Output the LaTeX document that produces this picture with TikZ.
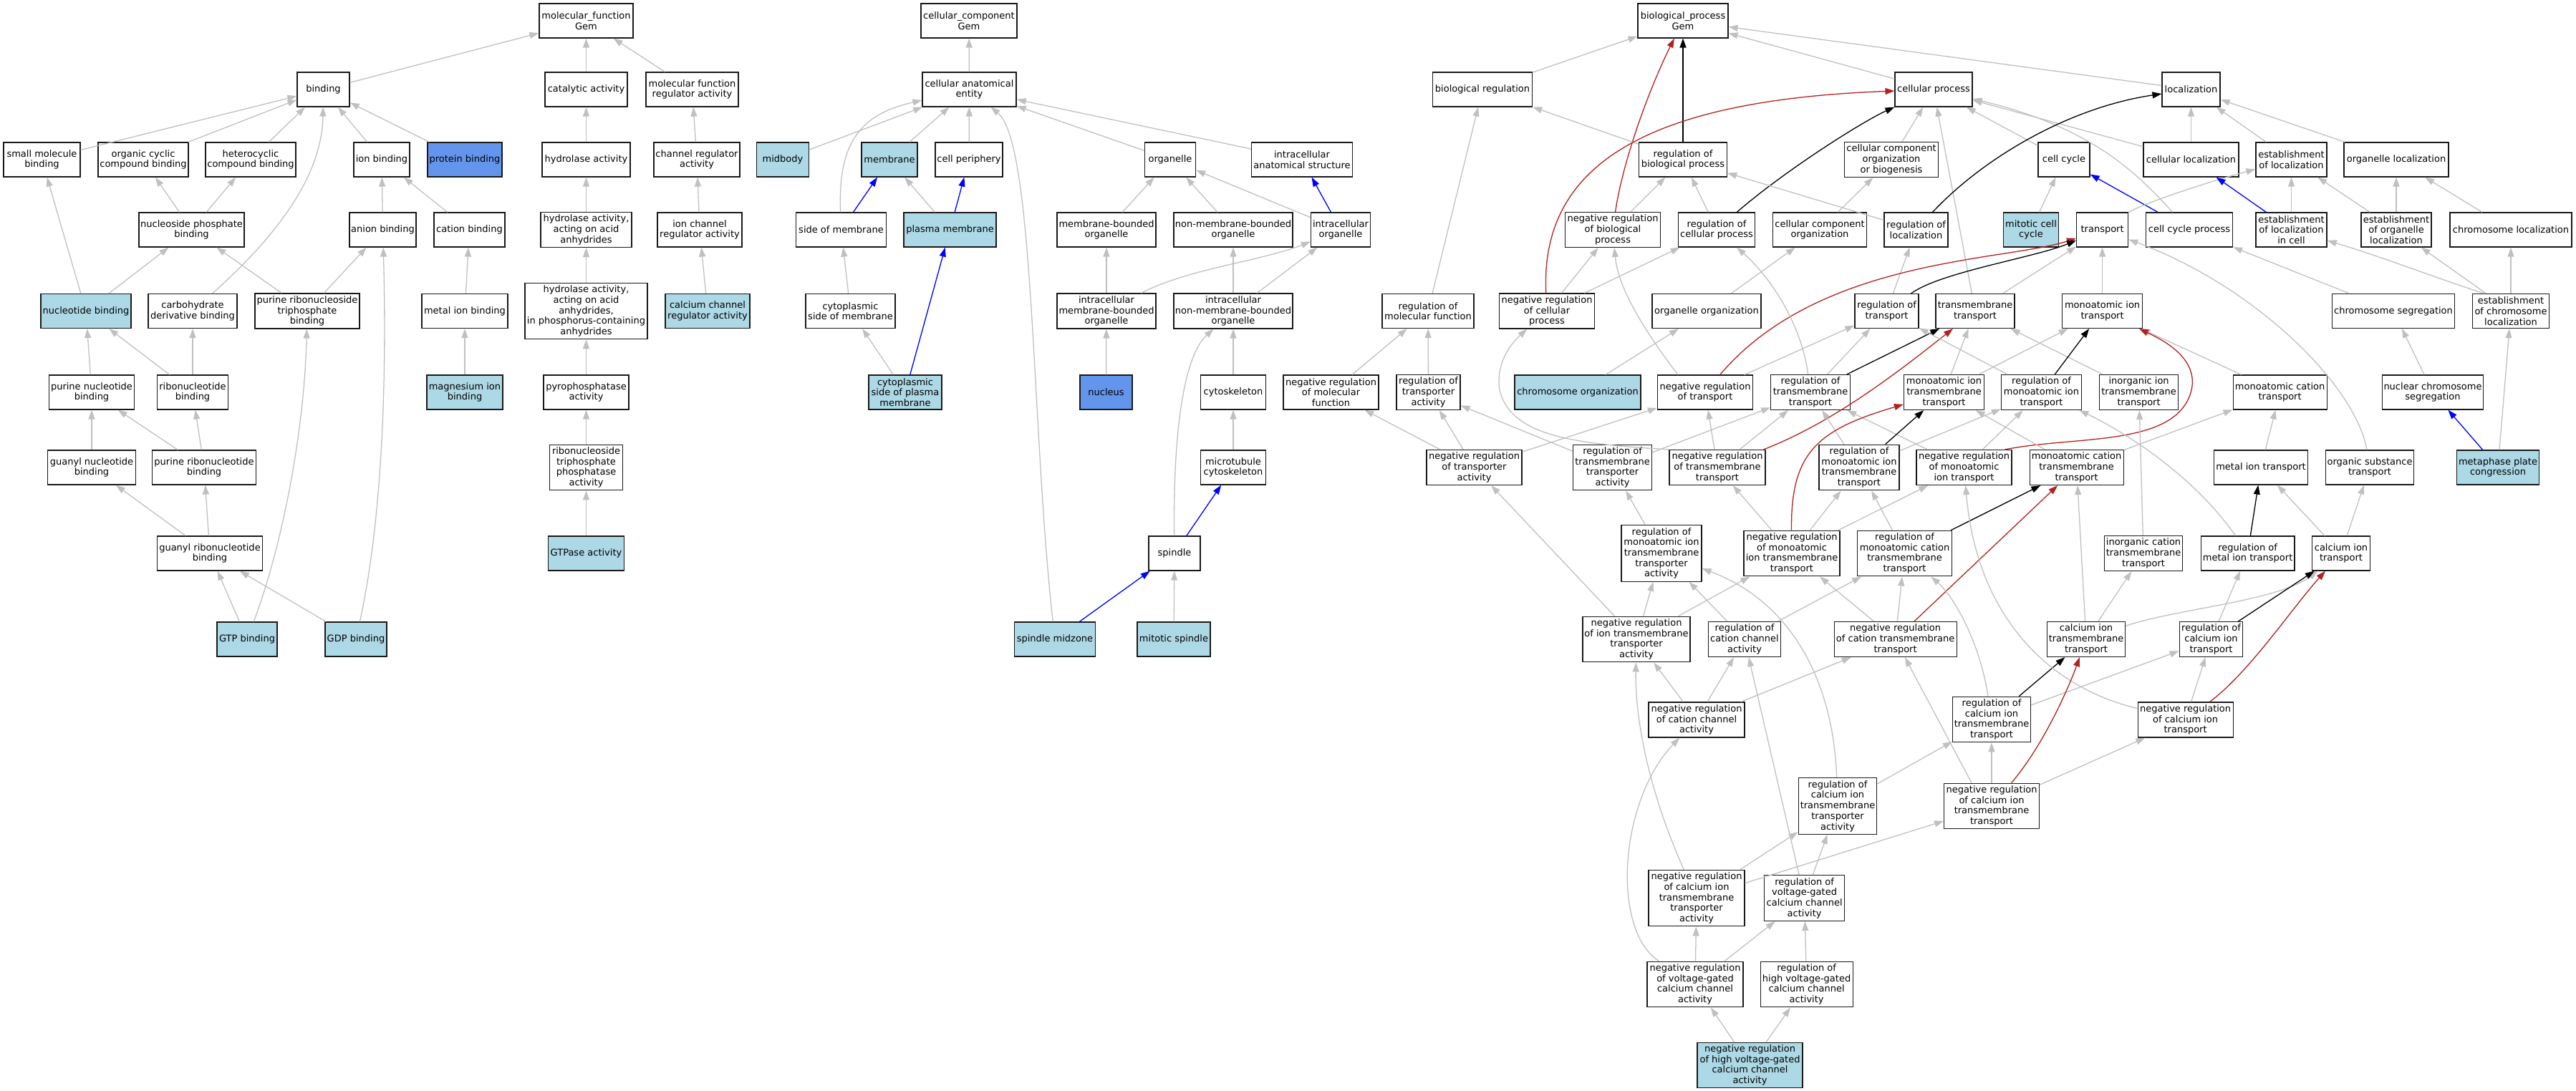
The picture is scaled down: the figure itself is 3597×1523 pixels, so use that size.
\documentclass[tikz,border=0pt]{standalone}
\usepackage{fontspec}
\setmainfont{DejaVu Sans}
\usetikzlibrary{arrows.meta}
\definecolor{hitblue}{HTML}{ADD8E6}
\definecolor{keyblue}{HTML}{6495ED}
\definecolor{isagray}{HTML}{C0C0C0}
\definecolor{negred}{HTML}{B22222}
\tikzstyle{term} = [rectangle, draw=black!90, line width=1.2pt, fill=white, align=center, minimum height=48pt, inner xsep=2pt, inner ysep=3.5pt, font=\fontsize{13}{14.7}\selectfont]
\tikzstyle{hitterm} = [term, fill=hitblue]
\tikzstyle{keyterm} = [term, fill=keyblue]
\tikzstyle{isa} = [line width=1.3pt, draw=isagray, -{Triangle[length=13pt,width=9pt]}]
\tikzstyle{reg} = [isa, draw=black]
\tikzstyle{negreg} = [isa, draw=negred]
\tikzstyle{partof} = [isa, draw=blue]

\begin{document}
\begin{tikzpicture}[x=1pt, y=-1pt]
        \useasboundingbox (0,0) rectangle (3597,1523);

        \node (mf) [term, minimum width=131] at (818.5,29) {molecular\_function\\Gem};
        \node (binding) [term, minimum width=73] at (451.5,125) {binding};
        \node (catalytic) [term, minimum width=115] at (818.5,125) {catalytic activity};
        \node (mfreg) [term, minimum width=129] at (966.5,125) {molecular function\\regulator activity};
        \node (smb) [term, minimum width=107] at (58.5,223) {small molecule\\binding};
        \node (occb) [term, minimum width=126] at (200,223) {organic cyclic\\compound binding};
        \node (hccb) [term, minimum width=126] at (350,223) {heterocyclic\\compound binding};
        \node (ionb) [term, minimum width=78] at (533,223) {ion binding};
        \node (protb) [keyterm, minimum width=104] at (649,223) {protein binding};
        \node (hydro) [term, minimum width=123] at (818.5,223) {hydrolase activity};
        \node (chanreg) [term, minimum width=120] at (973,223) {channel regulator\\activity};
        \node (npb) [term, minimum width=147] at (267.5,321) {nucleoside phosphate\\binding};
        \node (anionb) [term, minimum width=93] at (534.5,321) {anion binding};
        \node (cationb) [term, minimum width=99] at (655.5,321) {cation binding};
        \node (haaa) [term, minimum width=127] at (818.5,321) {hydrolase activity,\\acting on acid\\anhydrides};
        \node (ionchanreg) [term, minimum width=118] at (977,321) {ion channel\\regulator activity};
        \node (ntb) [hitterm, minimum width=126] at (120,434.5) {nucleotide binding};
        \node (cdb) [term, minimum width=124] at (269,434.5) {carbohydrate\\derivative binding};
        \node (prtb) [term, minimum width=146] at (429,434.5) {purine ribonucleoside\\triphosphate\\binding};
        \node (metalb) [term, minimum width=120] at (649,434.5) {metal ion binding};
        \node (haaap) [term, minimum width=171] at (818.5,434.5) {hydrolase activity,\\acting on acid\\anhydrides,\\in phosphorus-containing\\anhydrides};
        \node (cachanreg) [hitterm, minimum width=118] at (988,434.5) {calcium channel\\regulator activity};
        \node (pnb) [term, minimum width=119] at (128,548) {purine nucleotide\\binding};
        \node (rnb) [term, minimum width=99] at (269,548) {ribonucleotide\\binding};
        \node (mgb) [hitterm, minimum width=106] at (649,548) {magnesium ion\\binding};
        \node (ppase) [term, minimum width=119] at (818.5,548) {pyrophosphatase\\activity};
        \node (gnb) [term, minimum width=123] at (128,653) {guanyl nucleotide\\binding};
        \node (prnb) [term, minimum width=145] at (285,653) {purine ribonucleotide\\binding};
        \node (rtpase) [term, minimum width=102] at (818.5,653) {ribonucleoside\\triphosphate\\phosphatase\\activity};
        \node (grnb) [term, minimum width=147] at (293,773) {guanyl ribonucleotide\\binding};
        \node (gtpase) [hitterm, minimum width=106] at (818.5,773) {GTPase activity};
        \node (gtpb) [hitterm, minimum width=84] at (345,893) {GTP binding};
        \node (gdpb) [hitterm, minimum width=86] at (497,893) {GDP binding};

        \node (cc) [term, minimum width=134] at (1353,29) {cellular\_component\\Gem};
        \node (cae) [term, minimum width=131] at (1353.5,125) {cellular anatomical\\entity};
        \node (midbody) [hitterm, minimum width=73] at (1093,223) {midbody};
        \node (membrane) [hitterm, minimum width=78] at (1242,223) {membrane};
        \node (cellper) [term, minimum width=94] at (1353,223) {cell periphery};
        \node (organelle) [term, minimum width=71] at (1634,223) {organelle};
        \node (ias) [term, minimum width=141] at (1818,223) {intracellular\\anatomical structure};
        \node (som) [term, minimum width=126] at (1174.5,321) {side of membrane};
        \node (pm) [hitterm, minimum width=129] at (1326.5,321) {plasma membrane};
        \node (mbo) [term, minimum width=138] at (1545,321) {membrane-bounded\\organelle};
        \node (nmbo) [term, minimum width=166] at (1722,321) {non-membrane-bounded\\organelle};
        \node (io) [term, minimum width=83] at (1872,321) {intracellular\\organelle};
        \node (csom) [term, minimum width=125] at (1187.5,434.5) {cytoplasmic\\side of membrane};
        \node (imbo) [term, minimum width=138] at (1545,434.5) {intracellular\\membrane-bounded\\organelle};
        \node (inmbo) [term, minimum width=166] at (1722,434.5) {intracellular\\non-membrane-bounded\\organelle};
        \node (cspm) [hitterm, minimum width=102] at (1264,548) {cytoplasmic\\side of plasma\\membrane};
        \node (nucleus) [keyterm, minimum width=73] at (1544.5,548) {nucleus};
        \node (cytosk) [term, minimum width=91] at (1722,548) {cytoskeleton};
        \node (mtcs) [term, minimum width=91] at (1722,653) {microtubule\\cytoskeleton};
        \node (spindle) [term, minimum width=72] at (1640,773) {spindle};
        \node (spmid) [hitterm, minimum width=113] at (1473,893) {spindle midzone};
        \node (mitsp) [hitterm, minimum width=102] at (1639,893) {mitotic spindle};

        \node (bp) [term, minimum width=126] at (2350,29) {biological\_process\\Gem};
        \node (breg) [term, minimum width=139] at (2070,125) {biological regulation};
        \node (cp) [term, minimum width=108] at (2700,125) {cellular process};
        \node (loc) [term, minimum width=81] at (3059.5,125) {localization};
        \node (rbp) [term, minimum width=123] at (2350,223) {regulation of\\biological process};
        \node (ccob) [term, minimum width=131] at (2641,223) {cellular component\\organization\\or biogenesis};
        \node (ccyc) [term, minimum width=72] at (2882,223) {cell cycle};
        \node (cloc) [term, minimum width=133] at (3059.5,223) {cellular localization};
        \node (eol) [term, minimum width=99] at (3199.5,223) {establishment\\of localization};
        \node (oloc) [term, minimum width=146] at (3346,223) {organelle localization};
        \node (nrbp) [term, minimum width=133] at (2252,321) {negative regulation\\of biological\\process};
        \node (rcp) [term, minimum width=107.5] at (2397,321) {regulation of\\cellular process};
        \node (cco) [term, minimum width=131] at (2541,321) {cellular component\\organization};
        \node (rloc) [term, minimum width=89] at (2675.5,321) {regulation of\\localization};
        \node (mcc) [hitterm, minimum width=77] at (2836,321) {mitotic cell\\cycle};
        \node (transport) [term, minimum width=72] at (2935.6,321) {transport};
        \node (ccp) [term, minimum width=121] at (3057,321) {cell cycle process};
        \node (eolic) [term, minimum width=99] at (3199.5,321) {establishment\\of localization\\in cell};
        \node (eool) [term, minimum width=98] at (3346,321) {establishment\\of organelle\\localization};
        \node (chrloc) [term, minimum width=170] at (3506,321) {chromosome localization};
        \node (rmf) [term, minimum width=128] at (1994,434.5) {regulation of\\molecular function};
        \node (nrcp) [term, minimum width=133] at (2160,434.5) {negative regulation\\of cellular\\process};
        \node (oorg) [term, minimum width=152] at (2383,434.5) {organelle organization};
        \node (rt) [term, minimum width=89] at (2634.5,434.5) {regulation of\\transport};
        \node (tt) [term, minimum width=110] at (2758,434.5) {transmembrane\\transport};
        \node (mit) [term, minimum width=112] at (2935.6,434.5) {monoatomic ion\\transport};
        \node (chrseg) [term, minimum width=171] at (3342,434.5) {chromosome segregation};
        \node (ecl) [term, minimum width=107] at (3506,434.5) {establishment\\of chromosome\\localization};
        \node (nrmf) [term, minimum width=133] at (1858.5,548) {negative regulation\\of molecular\\function};
        \node (rta) [term, minimum width=89] at (1994.5,548) {regulation of\\transporter\\activity};
        \node (chrorg) [hitterm, minimum width=176] at (2203,548) {chromosome organization};
        \node (nrt) [term, minimum width=133] at (2381,548) {negative regulation\\of transport};
        \node (rtt) [term, minimum width=110.5] at (2528,548) {regulation of\\transmembrane\\transport};
        \node (mitt) [term, minimum width=112] at (2714.5,548) {monoatomic ion\\transmembrane\\transport};
        \node (rmit) [term, minimum width=112] at (2850.5,548) {regulation of\\monoatomic ion\\transport};
        \node (iitt) [term, minimum width=110] at (2986.6,548) {inorganic ion\\transmembrane\\transport};
        \node (mct) [term, minimum width=131] at (3183.6,548) {monoatomic cation\\transport};
        \node (ncs) [term, minimum width=141.5] at (3397,548) {nuclear chromosome\\segregation};
        \node (nrta) [term, minimum width=133] at (2058.5,653) {negative regulation\\of transporter\\activity};
        \node (rtta) [term, minimum width=110] at (2251.6,653) {regulation of\\transmembrane\\transporter\\activity};
        \node (nrtt) [term, minimum width=134] at (2398,653) {negative regulation\\of transmembrane\\transport};
        \node (rmitt) [term, minimum width=112] at (2596,653) {regulation of\\monoatomic ion\\transmembrane\\transport};
        \node (nrmit) [term, minimum width=133] at (2742.5,653) {negative regulation\\of monoatomic\\ion transport};
        \node (mctt) [term, minimum width=131] at (2899.6,653) {monoatomic cation\\transmembrane\\transport};
        \node (metal) [term, minimum width=130.6] at (3157,653) {metal ion transport};
        \node (ost) [term, minimum width=122.6] at (3309,653) {organic substance\\transport};
        \node (mpc) [hitterm, minimum width=115] at (3488,653) {metaphase plate\\congression};
        \node (rmitta) [term, minimum width=112] at (2320,773) {regulation of\\monoatomic ion\\transmembrane\\transporter\\activity};
        \node (nrmitt) [term, minimum width=134] at (2502,773) {negative regulation\\of monoatomic\\ion transmembrane\\transport};
        \node (rmctt) [term, minimum width=132] at (2659.5,773) {regulation of\\monoatomic cation\\transmembrane\\transport};
        \node (icatt) [term, minimum width=109] at (2993,773) {inorganic cation\\transmembrane\\transport};
        \node (rmetal) [term, minimum width=130.6] at (3138.6,773) {regulation of\\metal ion transport};
        \node (cat) [term, minimum width=80.5] at (3269,773) {calcium ion\\transport};
        \node (nritta) [term, minimum width=150] at (2285,893) {negative regulation\\of ion transmembrane\\transporter\\activity};
        \node (rcca) [term, minimum width=101] at (2436,893) {regulation of\\cation channel\\activity};
        \node (nrctt) [term, minimum width=171] at (2646.6,893) {negative regulation\\of cation transmembrane\\transport};
        \node (catt) [term, minimum width=109] at (2913,893) {calcium ion\\transmembrane\\transport};
        \node (rcat) [term, minimum width=88.5] at (3087.5,893) {regulation of\\calcium ion\\transport};
        \node (nrcca) [term, minimum width=134] at (2369,1005.5) {negative regulation\\of cation channel\\activity};
        \node (rcitt) [term, minimum width=109] at (2781,1005) {regulation of\\calcium ion\\transmembrane\\transport};
        \node (nrcat) [term, minimum width=133] at (3051.6,1005.5) {negative regulation\\of calcium ion\\transport};
        \node (rcitta) [term, minimum width=109.6] at (2566,1126) {regulation of\\calcium ion\\transmembrane\\transporter\\activity};
        \node (nrcitt) [term, minimum width=132.6] at (2781,1126) {negative regulation\\of calcium ion\\transmembrane\\transport};
        \node (nrcitta) [term, minimum width=134] at (2369,1254.5) {negative regulation\\of calcium ion\\transmembrane\\transporter\\activity};
        \node (rvgcca) [term, minimum width=112.5] at (2519.6,1254.5) {regulation of\\voltage-gated\\calcium channel\\activity};
        \node (nrvgcca) [term, minimum width=134] at (2367,1375) {negative regulation\\of voltage-gated\\calcium channel\\activity};
        \node (rhvgcca) [term, minimum width=129] at (2522.6,1375) {regulation of\\high voltage-gated\\calcium channel\\activity};
        \node (nrhvgcca) [hitterm, minimum width=147] at (2443.5,1488) {negative regulation\\of high voltage-gated\\calcium channel\\activity};

        \draw [isa] (binding) -- (mf);
        \draw [isa] (catalytic) -- (mf);
        \draw [isa] (mfreg) -- (mf);
        \draw [isa] (smb) -- (binding);
        \draw [isa] (occb) -- (binding);
        \draw [isa] (hccb) -- (binding);
        \draw [isa] (ionb) -- (binding);
        \draw [isa] (protb) -- (binding);
        \draw [isa] (cdb) .. controls (420,300) and (450,220) .. (binding);
        \draw [isa] (npb) -- (occb);
        \draw [isa] (npb) -- (hccb);
        \draw [isa] (anionb) -- (ionb);
        \draw [isa] (cationb) -- (ionb);
        \draw [isa] (ntb) -- (smb);
        \draw [isa] (ntb) -- (npb);
        \draw [isa] (prtb) -- (npb);
        \draw [isa] (prtb) -- (anionb);
        \draw [isa] (metalb) -- (cationb);
        \draw [isa] (pnb) -- (ntb);
        \draw [isa] (rnb) -- (ntb);
        \draw [isa] (rnb) -- (cdb);
        \draw [isa] (prnb) -- (pnb);
        \draw [isa] (prnb) -- (rnb);
        \draw [isa] (gnb) -- (pnb);
        \draw [isa] (grnb) -- (gnb);
        \draw [isa] (grnb) -- (prnb);
        \draw [isa] (gtpb) -- (grnb);
        \draw [isa] (gdpb) -- (grnb);
        \draw [isa] (gtpb) .. controls (395,760) and (425,600) .. (prtb);
        \draw [isa] (gdpb) .. controls (535,720) and (540,520) .. (anionb);
        \draw [isa] (mgb) -- (metalb);
        \draw [isa] (hydro) -- (catalytic);
        \draw [isa] (haaa) -- (hydro);
        \draw [isa] (haaap) -- (haaa);
        \draw [isa] (ppase) -- (haaap);
        \draw [isa] (rtpase) -- (ppase);
        \draw [isa] (gtpase) -- (rtpase);
        \draw [isa] (chanreg) -- (mfreg);
        \draw [isa] (ionchanreg) -- (chanreg);
        \draw [isa] (cachanreg) -- (ionchanreg);

        \draw [isa] (cae) -- (cc);
        \draw [isa] (midbody) -- (cae);
        \draw [isa] (membrane) -- (cae);
        \draw [isa] (cellper) -- (cae);
        \draw [isa] (organelle) -- (cae);
        \draw [isa] (ias) -- (cae);
        \draw [isa] (som) .. controls (1170,200) and (1200,160) .. (cae);
        \draw [partof] (som) -- (membrane);
        \draw [isa] (pm) -- (membrane);
        \draw [partof] (pm) -- (cellper);
        \draw [isa] (csom) -- (som);
        \draw [isa] (cspm) -- (csom);
        \draw [partof] (cspm) -- (pm);
        \draw [isa] (spmid) .. controls (1440,600) and (1445,200) .. (cae);
        \draw [isa] (mbo) -- (organelle);
        \draw [isa] (nmbo) -- (organelle);
        \draw [isa] (io) -- (organelle);
        \draw [partof] (io) -- (ias);
        \draw [isa] (imbo) -- (mbo);
        \draw [isa] (imbo) .. controls (1660,375) and (1760,365) .. (io);
        \draw [isa] (inmbo) -- (nmbo);
        \draw [isa] (inmbo) -- (io);
        \draw [isa] (nucleus) -- (imbo);
        \draw [isa] (cytosk) -- (inmbo);
        \draw [isa] (mtcs) -- (cytosk);
        \draw [partof] (spindle) -- (mtcs);
        \draw [isa] (spindle) .. controls (1638,620) and (1650,500) .. (inmbo);
        \draw [partof] (spmid) -- (spindle);
        \draw [isa] (mitsp) -- (spindle);

        \draw [isa] (breg) -- (bp);
        \draw [reg] (rbp) -- (bp);
        \draw [negreg] (nrbp) .. controls (2265,230) and (2300,130) .. (bp);
        \draw [isa] (cp) -- (bp);
        \draw [isa] (loc) -- (bp);
        \draw [isa] (rbp) -- (breg);
        \draw [isa] (rmf) -- (breg);
        \draw [negreg] (nrcp) .. controls (2150,230) and (2300,140) .. (cp);
        \draw [reg] (rcp) .. controls (2490,240) and (2600,170) .. (cp);
        \draw [isa] (ccob) -- (cp);
        \draw [isa] (tt) -- (cp);
        \draw [isa] (ccyc) -- (cp);
        \draw [isa] (cloc) -- (cp);
        \draw [isa] (ccp) .. controls (2990,250) and (2930,180) .. (cp);
        \draw [isa] (cloc) -- (loc);
        \draw [isa] (eol) -- (loc);
        \draw [isa] (oloc) -- (loc);
        \draw [reg] (rloc) .. controls (2770,220) and (2890,150) .. (loc);
        \draw [isa] (nrbp) -- (rbp);
        \draw [isa] (rcp) -- (rbp);
        \draw [isa] (rloc) -- (rbp);
        \draw [isa] (cco) -- (ccob);
        \draw [isa] (nrcp) -- (nrbp);
        \draw [isa] (nrcp) -- (rcp);
        \draw [isa] (oorg) -- (cco);
        \draw [isa] (rt) -- (rloc);
        \draw [isa] (mcc) -- (ccyc);
        \draw [partof] (ccp) -- (ccyc);
        \draw [isa] (transport) .. controls (2990,285) and (3080,255) .. (eol);
        \draw [isa] (eolic) -- (eol);
        \draw [partof] (eolic) -- (cloc);
        \draw [isa] (eool) -- (eol);
        \draw [isa] (eool) -- (oloc);
        \draw [isa] (chrloc) -- (oloc);
        \draw [isa] (chrseg) -- (ccp);
        \draw [isa] ([xshift=-37]ecl.north) .. controls (3420,395) and (3330,360) .. (eolic);
        \draw [isa] (ecl) -- (eool);
        \draw [isa] (ecl) -- (chrloc);
        \draw [isa] (ncs) -- (chrseg);
        \draw [partof] (mpc) -- (ncs);
        \draw [isa] (mpc) -- (ecl);
        \draw [isa] (nrmf) -- (rmf);
        \draw [isa] (rta) -- (rmf);
        \draw [isa] (chrorg) -- (oorg);
        \draw [isa] ([xshift=-38]nrt.north) .. controls (2310,480) and (2260,410) .. (nrbp);
        \draw [negreg] (nrt) .. controls (2540,360) and (2800,365) .. (transport);
        \draw [isa] (nrt) -- (rt);
        \draw [isa] (rtt) .. controls (2515,450) and (2470,385) .. (rcp);
        \draw [isa] (rtt) -- (rt);
        \draw [reg] (rtt) -- (tt);
        \draw [reg] (rt) .. controls (2710,380) and (2840,360) .. (transport);
        \draw [isa] (tt) -- (transport);
        \draw [isa] (mit) -- (transport);
        \draw [isa] (ost) .. controls (3290,540) and (3150,400) .. (transport);
        \draw [isa] (mitt) -- (tt);
        \draw [isa] (iitt) -- (tt);
        \draw [negreg] (nrtt) .. controls (2560,590) and (2650,520) .. (tt);
        \draw [isa] (rmit) -- (rt);
        \draw [reg] (rmit) -- (mit);
        \draw [isa] (mitt) -- (mit);
        \draw [isa] (mct) -- (mit);
        \draw [negreg] ([xshift=-10]nrmit.north east) .. controls (2900,608) and (3040,625) .. (3060,545) .. controls (3070,500) and (3020,475) .. (mit);
        \draw [isa] (nrta) -- (nrmf);
        \draw [isa] (nrta) -- (rta);
        \draw [isa] (nrta) -- (nrt);
        \draw [isa] (rtta) -- (rta);
        \draw [isa] (rtta) -- (rtt);
        \draw [isa] (nrtt) -- (nrt);
        \draw [isa] (nrtt) -- (rtt);
        \draw [isa] (nrtt.north west) .. controls (2200,620) and (2110,610) .. (2094,545) .. controls (2088,505) and (2112,478) .. (nrcp);
        \draw [isa] (rmitt) -- (rtt);
        \draw [isa] (nrmit) -- (rtt);
        \draw [isa] (rmitt) -- (rmit);
        \draw [isa] (nrmit) -- (rmit);
        \draw [isa] (rmetal) .. controls (3060,660) and (2960,600) .. (rmit);
        \draw [reg] (rmitt) -- (mitt);
        \draw [negreg] (nrmitt) .. controls (2500,630) and (2540,600) .. (mitt);
        \draw [isa] (mctt) -- (mitt);
        \draw [isa] (icatt) -- (iitt);
        \draw [isa] (mctt) -- (mct);
        \draw [isa] (metal) -- (mct);
        \draw [isa] (rmitta) -- (rtta);
        \draw [isa] (nrmitt) -- (nrtt);
        \draw [isa] (nrmitt) -- (rmitt);
        \draw [isa] (nrmitt) -- (nrmit);
        \draw [isa] (rmctt) -- (rmitt);
        \draw [reg] (rmctt) -- (mctt);
        \draw [negreg] (nrctt) -- (mctt);
        \draw [isa] (catt) -- (mctt);
        \draw [isa] (catt) -- (icatt);
        \draw [reg] (rmetal) -- (metal);
        \draw [isa] (cat) -- (metal);
        \draw [isa] (cat) -- (ost);
        \draw [isa] (nritta) -- (nrta);
        \draw [isa] (nritta) -- (rmitta);
        \draw [isa] (nritta) -- (nrmitt);
        \draw [isa] (rcca) -- (rmitta);
        \draw [isa] (rcca) -- (rmctt);
        \draw [isa] (nrctt) -- (nrmitt);
        \draw [isa] (nrctt) -- (rmctt);
        \draw [isa] (catt) .. controls (3040,850) and (3180,840) .. (cat);
        \draw [isa] (rcat) -- (rmetal);
        \draw [reg] (rcat) -- (cat);
        \draw [isa] (nrcca) -- (nritta);
        \draw [isa] (nrcca) -- (rcca);
        \draw [isa] (nrcca) -- (nrctt);
        \draw [isa] (rcitt) .. controls (2765,900) and (2730,835) .. (rmctt);
        \draw [reg] (rcitt) -- (catt);
        \draw [isa] (rcitt) -- (rcat);
        \draw [isa] (nrcat) -- (rcat);
        \draw [negreg] (nrcat) .. controls (3140,940) and (3200,850) .. (cat);
        \draw [isa] (nrcat) .. controls (2860,960) and (2760,860) .. (nrmit);
        \draw [isa] (rcitta) -- (rcitt);
        \draw [isa] (rcitta) .. controls (2560,950) and (2500,840) .. (rmitta);
        \draw [isa] ([xshift=-28]nrcitt.north) -- (nrctt);
        \draw [isa] (nrcitt) -- (rcitt);
        \draw [negreg] (nrcitt) .. controls (2850,1045) and (2885,970) .. (catt);
        \draw [isa] (nrcitt) -- (nrcat);
        \draw [isa] (nrcitta) .. controls (2300,1100) and (2283,1000) .. (nritta);
        \draw [isa] (nrcitta) -- (rcitta);
        \draw [isa] (nrcitta) -- (nrcitt);
        \draw [isa] (rvgcca) -- (rcca);
        \draw [isa] (rvgcca) -- (rcitta);
        \draw [isa] (nrvgcca) -- (nrcitta);
        \draw [isa] (nrvgcca) -- (rvgcca);
        \draw [isa] (nrvgcca) .. controls (2250,1300) and (2260,1120) .. (nrcca);
        \draw [isa] (rhvgcca) -- (rvgcca);
        \draw [isa] (nrhvgcca) -- (nrvgcca);
        \draw [isa] (nrhvgcca) -- (rhvgcca);
    \end{tikzpicture}
\end{document}
